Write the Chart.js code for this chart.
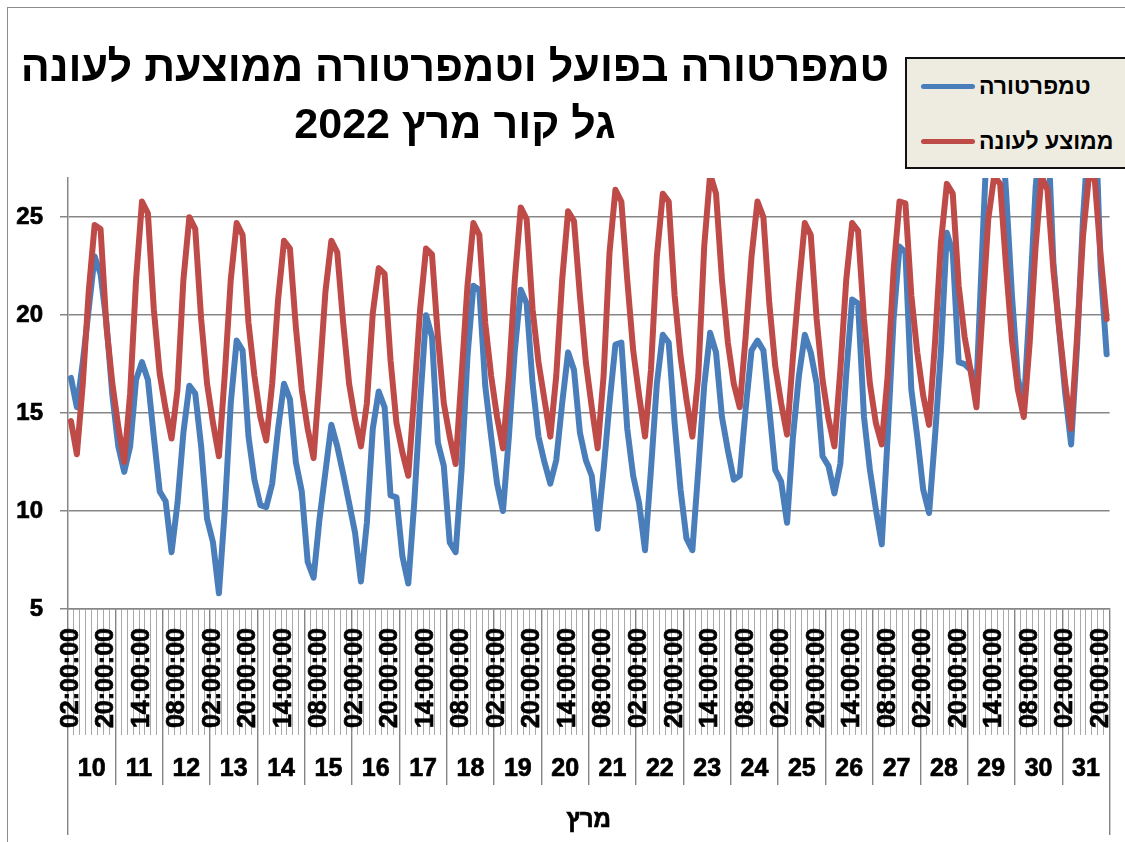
<!DOCTYPE html>
<html lang="he">
<head>
<meta charset="utf-8">
<script src="https://cdn.jsdelivr.net/npm/chart.js@4.4.0/dist/chart.umd.min.js"></script>
<style>
  html, body { margin: 0; padding: 0; background: #ffffff; }
  #wrap { position: relative; width: 1125px; height: 842px; overflow: hidden;
          font-family: "Liberation Sans", Arial, sans-serif; }
  #frame { position: absolute; left: 7px; top: 7px; right: -10px; bottom: -10px;
           border-top: 1px solid #8c8c8c; border-left: 1px solid #8c8c8c; }
  #chartBox { position: absolute; left: 0; top: 0; width: 1125px; height: 842px; }
  #title { position: absolute; left: 0; width: 910px; top: 38px; text-align: center;
           direction: rtl; font-weight: bold; font-size: 43px; line-height: 57px; color: #000; }
  #legend { position: absolute; left: 905px; top: 57px; width: 240px; height: 108px;
            background: #EEECE1; border: 2px solid #111; }
  .item { position: absolute; left: 14px; height: 30px; display: flex; align-items: center; }
  .sw { width: 54px; height: 5px; border-radius: 3px; margin-right: 4px; }
  .lbl { font-weight: bold; font-size: 23px; direction: rtl; color: #000; }
</style>
</head>
<body>
<div id="wrap">
  <div id="frame"></div>
  <div id="chartBox"><canvas id="c"></canvas></div>
  <div id="title"><div>טמפרטורה בפועל וטמפרטורה ממוצעת לעונה</div><div>גל קור מרץ 2022</div></div>
  <div id="legend">
    <div class="item" style="top:12px"><div class="sw" id="sw0"></div><div class="lbl" id="lg0"></div></div>
    <div class="item" style="top:67px"><div class="sw" id="sw1"></div><div class="lbl" id="lg1"></div></div>
  </div>
</div>
<script>
// ---- data (3-hourly readings, 10–31 March 2022) ----
const HOURS = ['02:00:00','05:00:00','08:00:00','11:00:00','14:00:00','17:00:00','20:00:00','23:00:00'];
const DAYS = ['10','11','12','13','14','15','16','17','18','19','20','21','22','23','24','25','26','27','28','29','30','31'];
const MONTH = ['מרץ'];
const SERIES_NAMES = ['טמפרטורה', 'ממוצע לעונה'];
const Y_TICKS = [5, 10, 15, 20, 25];

const TEMP = [
  16.8, 15.3, 17.6, 20.3, 23.0, 22.1, 19.6, 15.9,   // 10
  13.3, 12.0, 13.3, 16.7, 17.6, 16.7, 13.8, 11.0,   // 11
  10.5,  7.9, 10.4, 14.0, 16.4, 16.0, 13.3,  9.6,   // 12
   8.4,  5.8, 10.1, 15.5, 18.7, 18.2, 13.8, 11.6,   // 13
  10.3, 10.2, 11.4, 14.2, 16.5, 15.7, 12.5, 11.0,   // 14
   7.4,  6.6,  9.6, 12.0, 14.4, 13.3, 11.9, 10.4,   // 15
   8.9,  6.4,  9.4, 14.2, 16.1, 15.3, 10.8, 10.7,   // 16
   7.7,  6.3, 10.4, 15.5, 20.0, 18.9, 13.5, 12.3,   // 17
   8.4,  7.9, 12.1, 17.9, 21.5, 21.3, 16.4, 13.8,   // 18
  11.4, 10.0, 13.8, 18.2, 21.3, 20.6, 16.5, 13.8,   // 19
  12.5, 11.4, 12.6, 15.5, 18.1, 17.2, 14.0, 12.6,   // 20
  11.8,  9.1, 12.1, 15.5, 18.5, 18.6, 14.2, 11.8,   // 21
  10.4,  8.0, 12.1, 16.5, 19.0, 18.6, 14.5, 11.1,   // 22
   8.6,  8.0, 12.1, 16.4, 19.1, 18.1, 14.8, 13.1,   // 23
  11.6, 11.8, 15.2, 18.2, 18.7, 18.2, 15.2, 12.1,   // 24
  11.5,  9.4, 13.8, 16.9, 19.0, 18.1, 16.5, 12.8,   // 25
  12.3, 10.9, 12.4, 17.0, 20.8, 20.6, 14.8, 12.1,   // 26
  10.1,  8.3, 13.8, 19.8, 23.5, 23.2, 16.2, 13.8,   // 27
  11.1,  9.9, 13.8, 18.2, 24.2, 23.2, 17.6, 17.5,   // 28
  17.2, 16.3, 23.5, 30.5, 31.0, 31.0, 26.3, 21.0,   // 29
  16.8, 15.3, 20.6, 26.5, 30.0, 30.0, 22.7, 19.2,   // 30
  16.0, 13.4, 18.4, 24.9, 29.5, 31.0, 22.3, 18.0    // 31
];

const SEASON_AVG = [
  14.6, 12.9, 16.5, 21.2, 24.6, 24.4, 19.4, 16.5,   // 10
  14.3, 12.5, 16.0, 21.8, 25.8, 25.2, 20.3, 17.0,   // 11
  15.2, 13.7, 16.2, 21.8, 25.0, 24.4, 19.8, 16.5,   // 12
  14.5, 12.8, 17.0, 21.8, 24.7, 24.1, 19.6, 16.9,   // 13
  14.8, 13.6, 16.5, 20.8, 23.8, 23.4, 19.4, 16.2,   // 14
  14.2, 12.7, 16.8, 21.2, 23.8, 23.2, 19.6, 16.5,   // 15
  14.7, 13.3, 15.5, 20.1, 22.4, 22.1, 17.7, 14.5,   // 16
  13.0, 11.8, 15.9, 20.3, 23.4, 23.1, 18.9, 15.5,   // 17
  13.8, 12.4, 16.9, 21.5, 24.7, 24.1, 19.6, 16.9,   // 18
  14.8, 13.2, 16.9, 21.8, 25.5, 24.9, 20.3, 17.6,   // 19
  15.7, 13.8, 16.9, 21.8, 25.3, 24.8, 21.0, 17.6,   // 20
  15.3, 13.2, 16.9, 23.2, 26.4, 25.8, 21.8, 18.2,   // 21
  15.9, 13.8, 17.2, 23.0, 26.2, 25.8, 21.0, 17.9,   // 22
  15.7, 13.8, 16.9, 23.5, 27.2, 26.2, 21.8, 18.6,   // 23
  16.5, 15.3, 18.9, 23.0, 25.8, 25.0, 20.6, 17.4,   // 24
  15.5, 13.9, 17.9, 21.5, 24.7, 24.1, 19.8, 16.7,   // 25
  14.7, 13.3, 17.2, 21.8, 24.7, 24.3, 19.8, 16.5,   // 26
  14.5, 13.4, 16.9, 22.3, 25.8, 25.7, 21.0, 18.1,   // 27
  15.9, 14.4, 18.6, 23.7, 26.7, 26.2, 21.5, 18.9,   // 28
  17.2, 15.3, 20.1, 24.9, 27.1, 26.7, 22.5, 18.7,   // 29
  16.2, 14.8, 18.6, 23.5, 27.1, 26.4, 22.3, 19.3,   // 30
  16.5, 14.2, 18.9, 24.0, 27.1, 26.9, 23.0, 19.8    // 31
];

const COLORS = ['#4A7EBB', '#BE4B48'];

// ---- build category table from the arrays ----
const TIME_LABELS = [];
DAYS.forEach(() => HOURS.forEach(h => TIME_LABELS.push(h)));
const PER_DAY = HOURS.length;
const LABEL_EVERY = 6;

// legend (HTML text)
document.getElementById('lg0').textContent = SERIES_NAMES[0];
document.getElementById('lg1').textContent = SERIES_NAMES[1];
document.getElementById('sw0').style.background = COLORS[0];
document.getElementById('sw1').style.background = COLORS[1];

const FONT = '"Liberation Sans", Arial, sans-serif';
Chart.defaults.font.family = FONT;

const tickText = { color: '#000', textStrokeColor: '#000', textStrokeWidth: 0.7 };

new Chart(document.getElementById('c'), {
  type: 'line',
  data: {
    labels: TIME_LABELS,
    datasets: [
      { label: SERIES_NAMES[0], data: TEMP, borderColor: COLORS[0], backgroundColor: COLORS[0],
        borderWidth: 6, pointRadius: 0, tension: 0, fill: false, order: 1,
        borderJoinStyle: 'round', borderCapStyle: 'round',
        clip: { left: 10, top: 0, right: 10, bottom: 10 }, xAxisID: 'x', yAxisID: 'y' },
      { label: SERIES_NAMES[1], data: SEASON_AVG, borderColor: COLORS[1], backgroundColor: COLORS[1],
        borderWidth: 6, pointRadius: 0, tension: 0, fill: false, order: 0,
        borderJoinStyle: 'round', borderCapStyle: 'round',
        clip: { left: 10, top: 0, right: 10, bottom: 10 }, xAxisID: 'x', yAxisID: 'y' }
    ]
  },
  options: {
    responsive: true,
    maintainAspectRatio: false,
    devicePixelRatio: 1,
    animation: false,
    events: [],
    layout: { autoPadding: false, padding: { top: 178, left: 8, right: 15.4, bottom: 7 } },
    plugins: { legend: { display: false }, title: { display: false }, tooltip: { enabled: false } },
    scales: {
      x: {
        type: 'category', position: 'bottom', offset: true, weight: 0,
        labels: TIME_LABELS,
        grid: { display: true, drawOnChartArea: false, drawTicks: true, tickLength: 126, offset: true,
                color: (ctx) => (ctx.index === undefined || ctx.index % PER_DAY === 0) ? '#858585' : '#a9a9a9',
                lineWidth: (ctx) => (ctx.index === undefined || ctx.index % PER_DAY === 0) ? 1.4 : 1 },
        border: { display: true, color: '#878787', width: 1.5 },
        ticks: Object.assign({ autoSkip: false, minRotation: 90, maxRotation: 90, padding: -107,
                 font: { size: 25, weight: 'bold', family: FONT },
                 callback: (v, i) => (i % LABEL_EVERY === 0) ? TIME_LABELS[i] : '' }, tickText),
        afterFit: (s) => { s.height = 126; }
      },
      xDay: {
        type: 'category', position: 'bottom', offset: true, weight: 1,
        labels: DAYS,
        grid: { display: true, drawOnChartArea: false, drawTicks: true, tickLength: 50, offset: true,
                color: '#858585', lineWidth: 1.4 },
        border: { display: false },
        ticks: Object.assign({ autoSkip: false, maxRotation: 0, minRotation: 0, padding: -31,
                 font: { size: 25, weight: 'bold', family: FONT } }, tickText),
        afterFit: (s) => { s.height = 50; }
      },
      xMonth: {
        type: 'category', position: 'bottom', offset: true, weight: 2,
        labels: MONTH,
        grid: { display: true, drawOnChartArea: false, drawTicks: true, tickLength: 50, offset: true,
                color: '#858585', lineWidth: 1.4 },
        border: { display: false },
        ticks: Object.assign({ autoSkip: false, maxRotation: 0, minRotation: 0, padding: -29,
                 font: { size: 24, weight: 'bold', family: FONT } }, tickText),
        afterFit: (s) => { s.height = 50; }
      },
      y: {
        type: 'linear', position: 'left', min: 5, max: 27,
        afterBuildTicks: (s) => { s.ticks = Y_TICKS.map(v => ({ value: v })); },
        grid: { color: '#878787', lineWidth: 1.5, drawTicks: true, tickLength: 8 },
        border: { display: true, color: '#878787', width: 1.5 },
        ticks: Object.assign({ padding: 17, font: { size: 24, weight: 'bold', family: FONT } }, tickText),
        afterFit: (s) => { s.width = 60; }
      }
    }
  }
});
</script>
</body>
</html>
